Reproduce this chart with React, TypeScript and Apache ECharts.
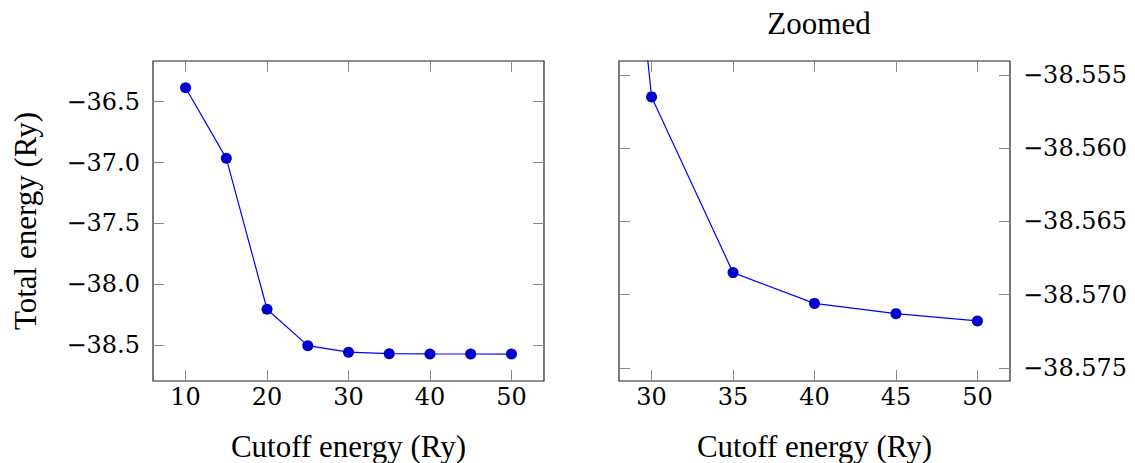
import React, { useEffect, useRef } from "react";
import * as echarts from "echarts";

const cutoff = [10, 15, 20, 25, 30, 35, 40, 45, 50];
const totalEnergy = [-36.385, -36.965, -38.204, -38.503, -38.5565, -38.5685, -38.5706, -38.5713, -38.5718];

const leftXTicks = [10, 20, 30, 40, 50];
const leftYTicks = [-38.5, -38.0, -37.5, -37.0, -36.5];
const rightXTicks = [30, 35, 40, 45, 50];
const rightYTicks = [-38.575, -38.57, -38.565, -38.56, -38.555];

const xLabel = "Cutoff energy (Ry)";
const yLabel = "Total energy (Ry)";
const rightTitle = "Zoomed";

const fmt = (d: number) => (v: number) => {
  const s = Math.abs(v).toFixed(d);
  return v < 0 ? "\u2212" + s : s;
};

const NUM_FONT = "'DejaVu Serif', serif";
const TXT_FONT = "'Liberation Serif', 'Times New Roman', serif";
const TICK_COLOR = "#8a8a8a";

export default function App() {
  const ref = useRef<HTMLDivElement>(null);
  useEffect(() => {
    if (!ref.current) return;
    const chart = echarts.init(ref.current, undefined, { renderer: "svg" });
    const pts = cutoff.map((c, i) => [c, totalEnergy[i]]);

    const tick = (vals: number[]) => ({
      show: true,
      inside: true,
      length: 11,
      customValues: vals,
      lineStyle: { color: TICK_COLOR, width: 1 },
    });
    const numLabel = (vals: number[], d: number, margin: number, show = true) => ({
      show,
      customValues: vals,
      formatter: fmt(d),
      fontFamily: NUM_FONT,
      fontSize: 24,
      color: "#000",
      margin,
    });
    const baseX = (grid: number, min: number, max: number, ticks: number[], pos: "bottom" | "top", showLabel: boolean, name?: string) => ({
      type: "value",
      gridIndex: grid,
      position: pos,
      min,
      max,
      axisLine: { show: false },
      axisTick: tick(ticks),
      axisLabel: numLabel(ticks, 0, 4, showLabel),
      splitLine: { show: false },
      name: name || "",
      nameLocation: "middle",
      nameGap: 50,
      nameTextStyle: { fontFamily: TXT_FONT, fontSize: 31, color: "#000" },
    });
    const baseY = (grid: number, min: number, max: number, ticks: number[], pos: "left" | "right", showLabel: boolean, d: number, name?: string) => ({
      type: "value",
      gridIndex: grid,
      position: pos,
      min,
      max,
      axisLine: { show: false },
      axisTick: tick(ticks),
      axisLabel: numLabel(ticks, d, 13, showLabel),
      splitLine: { show: false },
      name: name || "",
      nameLocation: "middle",
      nameRotate: 90,
      nameGap: 112,
      nameTextStyle: { fontFamily: TXT_FONT, fontSize: 31, color: "#000" },
    });

    const lineSeries = (xi: number, yi: number) => ({
      type: "line",
      xAxisIndex: xi,
      yAxisIndex: yi,
      data: pts,
      clip: true,
      symbol: "circle",
      symbolSize: 11,
      itemStyle: { color: "#0000cc" },
      lineStyle: { color: "#0000ff", width: 1.2 },
    });

    const gridBase = {
      top: 61,
      width: 391,
      height: 320,
      show: true,
      borderColor: "#222",
      borderWidth: 1.2,
      backgroundColor: "transparent",
      containLabel: false,
      outerBoundsMode: "none",
    };

    chart.setOption({
      animation: false,
      backgroundColor: "#fff",
      title: {
        text: rightTitle,
        left: 814,
        top: 3,
        textAlign: "center",
        textStyle: { fontFamily: TXT_FONT, fontSize: 31, fontWeight: "normal", color: "#000" },
      },
      grid: [
        { ...gridBase, left: 153 },
        { ...gridBase, left: 619 },
      ],
      xAxis: [
        baseX(0, 6, 54, leftXTicks, "bottom", true, xLabel),
        baseX(0, 6, 54, leftXTicks, "top", false),
        baseX(1, 28, 52, rightXTicks, "bottom", true, xLabel),
        baseX(1, 28, 52, rightXTicks, "top", false),
      ],
      yAxis: [
        baseY(0, -38.793, -36.166, leftYTicks, "left", true, 1, yLabel),
        baseY(0, -38.793, -36.166, leftYTicks, "right", false, 1),
        baseY(1, -38.5759, -38.55405, rightYTicks, "right", true, 3),
        baseY(1, -38.5759, -38.55405, rightYTicks, "left", false, 3),
      ],
      series: [lineSeries(0, 0), lineSeries(2, 2)],
    });
    return () => chart.dispose();
  }, []);
  return (
    <div
      ref={ref}
      style={{ position: "fixed", left: 0, top: 0, width: 1135, height: 463, background: "#fff" }}
    />
  );
}
